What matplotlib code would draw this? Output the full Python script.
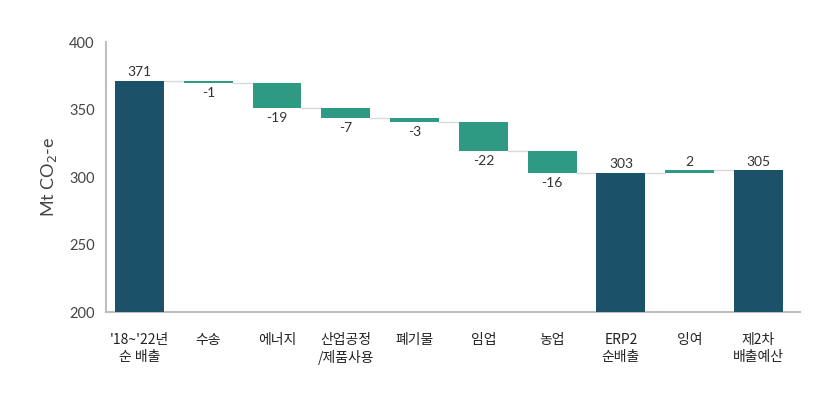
import matplotlib.pyplot as plt

plt.rcParams['font.family'] = ['Lato', 'Noto Sans CJK KR', 'DejaVu Sans']

# 카테고리 / 값
categories = ["'18~'22년\n순 배출", "수송", "에너지", "산업공정\n/제품사용", "폐기물",
              "임업", "농업", "ERP2\n순배출", "잉여", "제2차\n배출예산"]
values = [371, -1, -19, -7, -3, -22, -16, 303, 2, 305]
is_total = [True, False, False, False, False, False, False, True, False, True]

dark = "#1b5269"
teal = "#2e9a84"

fig = plt.figure(figsize=(8.4, 3.93), dpi=100)
ax = fig.add_axes([0.126, 0.206, 0.826, 0.687])

width = 0.71
level = 0
tops = []
for i, (v, tot) in enumerate(zip(values, is_total)):
    if tot:
        level = v
        ax.bar(i, v, bottom=0, width=width, color=dark, zorder=3)
        ax.text(i, v + 2, str(v), ha='center', va='bottom', fontsize=10, color='#333333')
    else:
        start = level
        level = level + v
        bottom = min(start, level)
        ax.bar(i, abs(v), bottom=bottom, width=width, color=teal, zorder=3)
        if v < 0:
            ax.text(i, bottom - 3, str(v), ha='center', va='top', fontsize=10, color='#333333')
        else:
            ax.text(i, level + 2, str(v), ha='center', va='bottom', fontsize=10, color='#333333')
    tops.append(level)

# 연결선
for i in range(len(values) - 1):
    ax.plot([i + width / 2, i + 1 - width / 2], [tops[i], tops[i]],
            color='#d9d9d9', lw=1, zorder=2)

ax.set_ylim(200, 400)
ax.set_xlim(-0.49, 9.6)
ax.set_yticks([200, 250, 300, 350, 400])
ax.set_xticks(range(len(categories)))
ax.set_xticklabels(categories, fontsize=10, family=['Noto Sans CJK KR'], color='#222222',
                   linespacing=1.3)
ax.tick_params(axis='x', length=0, pad=15)
ax.tick_params(axis='y', length=0, labelsize=10.5, labelcolor='#444444', pad=8)
ax.set_ylabel("Mt CO$_2$-e", fontsize=13, color='#444444', labelpad=7)

for s in ['top', 'right']:
    ax.spines[s].set_visible(False)
for s in ['left', 'bottom']:
    ax.spines[s].set_color('#bfbfbf')
    ax.spines[s].set_linewidth(1.5)

fig.savefig("out.png", dpi=100)
